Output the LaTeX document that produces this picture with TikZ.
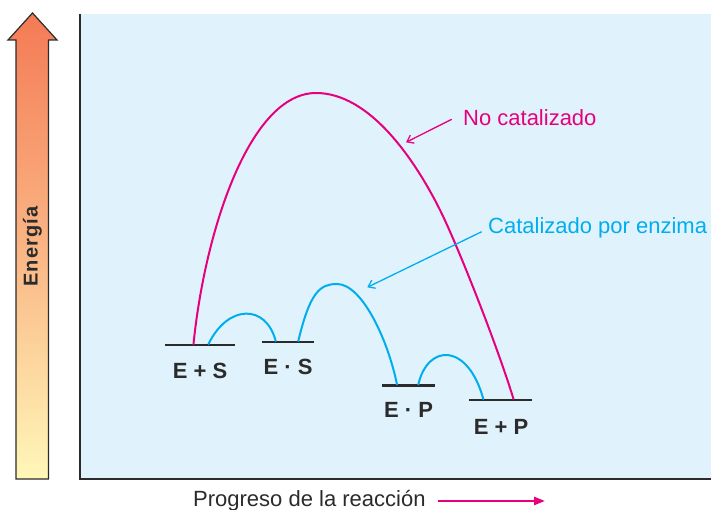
\documentclass[tikz,border=0pt]{standalone}
\usepackage{fontspec}
\setmainfont{Liberation Sans}
\usetikzlibrary{arrows.meta}
\definecolor{panel}{HTML}{E0F2FC}
\definecolor{mag}{HTML}{E6007E}
\definecolor{cya}{HTML}{00AEEF}
\definecolor{ink}{HTML}{2B2B2B}
\definecolor{topc}{HTML}{F47A55}
\definecolor{midc}{HTML}{FAB584}
\definecolor{botc}{HTML}{FFF7B8}
\tikzset{
  level/.style={draw=ink, line width=2.2pt},
  lbl/.style={font=\fontsize{22}{26}\selectfont\bfseries, text=ink, anchor=base, inner sep=0pt},
  uncat/.style={draw=mag, line width=2pt, line cap=round},
  cat/.style={draw=cya, line width=2pt, line cap=round},
  note/.style={font=\fontsize{22}{26}\selectfont, anchor=base west, inner sep=0pt},
  pointer/.style={line width=1.3pt, -{Straight Barb[length=6pt,width=9pt,line width=1.3pt]}}
}
\begin{document}
\begin{tikzpicture}[x=1pt,y=-1pt]
\useasboundingbox (0,0) rectangle (711,510);
% panel
\fill[panel] (80,14) rectangle (711,479);
\draw[ink, line width=2pt] (80,14) -- (80,479) -- (711,479);
% energy arrow
\path[top color=topc, bottom color=botc, middle color=midc]
  (16,479) -- (16,40) -- (8,40) -- (32.5,13) -- (57,40) -- (48.5,40) -- (48.5,479) -- cycle;
\draw[ink, line width=1.2pt, line join=miter]
  (16,479) -- (16,40) -- (8,40) -- (32.5,13) -- (57,40) -- (48.5,40) -- (48.5,479) -- cycle;
\node[rotate=90, anchor=base, inner sep=0pt, text=ink,
  font=\fontsize{20}{24}\selectfont\bfseries\addfontfeatures{LetterSpace=6}] (energia) at (37.5,246.5) {Energía};
% levels
\draw[level] (165,345) coordinate (es1) -- (235,345) coordinate (es2);
\draw[level] (262,342) coordinate (ec1) -- (314,342) coordinate (ec2);
\draw[level] (382,385.5) coordinate (ep1) -- (435,385.5) coordinate (ep2);
\draw[level] (469,400) coordinate (pp1) -- (532,400) coordinate (pp2);
\node[lbl] (ES) at (200,378) {E + S};
\node[lbl] (EcS) at (288,374) {E · S};
\node[lbl] (EcP) at (408.5,417) {E · P};
\node[lbl] (EP) at (501,434) {E + P};
% uncatalysed curve
\draw[uncat] (193.5,344) .. controls (205,230) and (250,93) .. (316,93)
  .. controls (370,93) and (415,160) .. (440,210)
  .. controls (457,244) and (497,345) .. (513.5,399);
% catalysed curves
\draw[cat] (208.5,344) .. controls (228,304) and (266,304) .. (275.7,341);
\draw[cat] (298.3,341) .. controls (310,292) and (320,284) .. (337,284)
  .. controls (362,284) and (388,340) .. (397,384.5);
\draw[cat] (418.3,384.5) .. controls (428,343) and (468,343) .. (483.3,399);
% annotations
\node[note, text=mag] (nocat) at (463,126) {No catalizado};
\node[note, text=cya] (catenz) at (488,234) {Catalizado por enzima};
\coordinate (t1) at (406,142.3);
\coordinate (t2) at (367.3,287.3);
\draw[pointer, mag] (451.7,119.3) -- (t1);
\draw[pointer, cya] (481.7,231.7) -- (t2);
% x axis label
\node[note, text=ink] (prog) at (193,506) {Progreso de la reacción};
\coordinate (pa) at (545,501);
\draw[mag, line width=2.4pt, -{Triangle[length=11pt,width=8pt]}] (438,501) -- (pa);
\end{tikzpicture}
\end{document}
